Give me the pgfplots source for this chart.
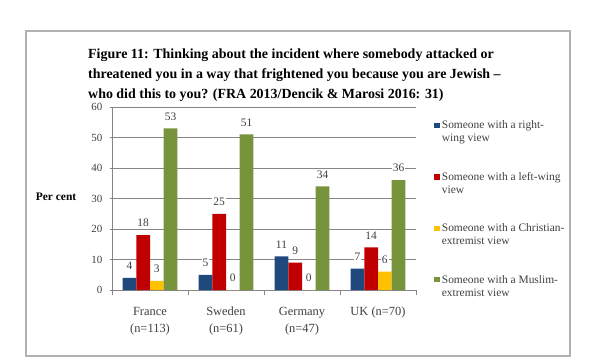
\documentclass[border=0pt]{standalone}
\usepackage{fontspec}
\setmainfont{Liberation Serif}
\usepackage{pgfplots}
\pgfplotsset{compat=1.18}
\definecolor{cblue}{HTML}{1F497D}
\definecolor{cred}{HTML}{C00000}
\definecolor{cyel}{HTML}{FFC000}
\definecolor{cgreen}{HTML}{77933C}
\definecolor{axgray}{HTML}{868686}
\definecolor{txt}{HTML}{404040}
\pgfplotsset{
 legsq/.style={legend image code/.code={\path[fill=none,draw=none] (0bp,-9.3bp) rectangle (5.5bp,9.3bp); \fill[#1] (0bp,3.9bp) rectangle (5.5bp,9.1bp);}}
}
\begin{document}
\begin{tikzpicture}
\begin{scope}[x=1bp,y=1bp]
\path (0,0) rectangle (600,361);
\draw[color=black!30, line width=1.2bp] (26,330) rectangle (570,5);
\node[anchor=north west, inner sep=0pt, align=left, font=\fontsize{14}{20}\selectfont\bfseries] at (88,312)
 {Figure 11: Thinking about the incident where somebody attacked or\\threatened you in a way that frightened you because you are Jewish --\\who did this to you? (FRA 2013/Dencik \& Marosi 2016: 31)};
\node[font=\fontsize{11.5}{13}\selectfont\bfseries] at (56,164) {Per cent};
\end{scope}
\begin{axis}[
 at={(112bp,71bp)}, anchor=south west,
 scale only axis, width=304bp, height=183bp,
 ymin=0, ymax=60, ytick={0,10,...,60},
 xmin=-0.5, xmax=3.5,
 ybar=0pt, bar width=0.18,
 axis x line*=bottom, axis y line*=left,
 axis line style={draw=axgray, line width=0.8bp, -},
 ymajorgrids, grid style={draw=axgray, line width=0.6bp},
 tick style={draw=axgray, line width=0.8bp},
 xtick={-0.5,0.5,1.5,2.5,3.5}, xticklabels={},
 xtick align=outside, ytick align=center, major tick length=5bp,
 extra x ticks={0,1,2,3},
 extra x tick labels={France\\(n=113), Sweden\\(n=61), Germany\\(n=47), UK (n=70)},
 extra x tick style={major tick length=0pt, xticklabel style={align=center, inner sep=0pt, yshift=-17bp, font=\fontsize{12.5}{17}\selectfont, text=txt}},
 yticklabel style={font=\fontsize{11}{13}\selectfont, text=txt, inner sep=0pt, xshift=-7bp},
 /pgf/number format/assume math mode=true,
 nodes near coords,
 every node near coord/.append style={font=\fontsize{11.5}{13}\selectfont, text=txt, fill=white, inner sep=1bp, anchor=center, yshift=12bp},
 legend style={at={(1.05,0.947)}, anchor=north west, draw=none, fill=none,
   font=\fontsize{11.5}{13}\selectfont, text=txt, row sep=25bp,
   cells={anchor=west, align=left}},
 legend cell align=left,
]
\addplot[fill=cblue, draw=none, legsq=cblue] coordinates {(0,4) (1,5) (2,11) (3,7)};
\addlegendentry{Someone with a right-\\wing view}
\addplot[fill=cred, draw=none, legsq=cred] coordinates {(0,18) (1,25) (2,9) (3,14)};
\addlegendentry{Someone with a left-wing\\view}
\addplot[fill=cyel, draw=none, legsq=cyel] coordinates {(0,3) (1,0) (2,0) (3,6)};
\addlegendentry{Someone with a Christian-\\extremist view}
\addplot[fill=cgreen, draw=none, legsq=cgreen] coordinates {(0,53) (1,51) (2,34) (3,36)};
\addlegendentry{Someone with a Muslim-\\extremist view}
\end{axis}
\end{tikzpicture}
\end{document}
